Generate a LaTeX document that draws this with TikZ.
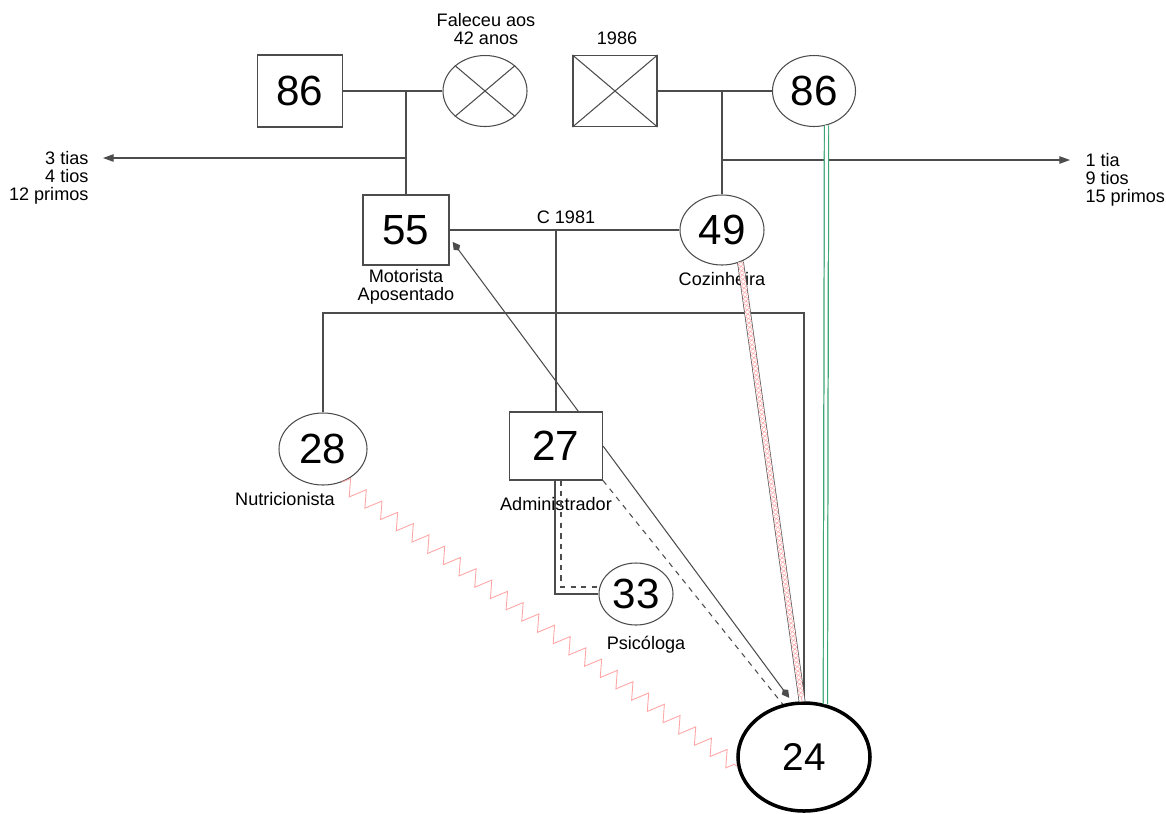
\documentclass[tikz,border=0pt]{standalone}
\usepackage{fontspec}
\setmainfont{Liberation Sans}
\usepackage{tikz}
\usetikzlibrary{shapes.geometric,% ellipse nodes
arrows.meta,%             arrow tips
decorations.pathmorphing,% zigzag lines
calc}
\definecolor{bondgreen}{RGB}{60,165,115}
\tikzset{every node/.style={font=\fontsize{10.3}{10.3}\selectfont, text=black}}
\tikzset{
  person/.style={draw=black!70, line width=0.6pt, inner sep=0pt, font=\fontsize{24}{26}\selectfont},
  male/.style 2 args={person, rectangle, minimum width=#1, minimum height=#2},
  female/.style 2 args={person, ellipse, minimum width=#1, minimum height=#2},
  ego/.style={person, ellipse, draw=black, line width=2pt, minimum width=26.4mm, minimum height=21.6mm, font=\fontsize{22}{24}\selectfont},
  note/.style={align=center, inner sep=0pt},
  kin/.style={-{Triangle[length=6pt,width=4.2pt]}},
  towards/.style={-{Kite[length=6pt,width=4.5pt,inset=2pt]}, shorten >=3pt},
  conflict/.style={draw=red!35, line width=0.5pt, decorate, decoration={zigzag, amplitude=4.5pt, segment length=11pt}},
  bond/.style={draw=bondgreen, double=white, double distance=1.7pt, line width=0.7pt},
  fused/.style={red!35,
    preaction={draw, double=white, double distance=3pt, line width=0.4pt},
    postaction={draw, line width=0.3pt, decorate, decoration={zigzag, amplitude=1.5pt, segment length=5pt}},
    postaction={draw, line width=0.3pt, decorate, decoration={zigzag, amplitude=1.5pt, segment length=5pt, mirror}}}
}

\begin{document}
\begin{tikzpicture}[x=0.2mm, y=-0.2mm, line width=0.6pt, color=black!70]
  \useasboundingbox (0,0) rectangle (1166,813);
  % grandparents
  \node[male={17mm}{14.4mm}] (gpa1) at (300,91) {86};
  \node[female={16.8mm}{14.2mm}] (gma1) at (485,91) {};
  \node[male={16.8mm}{14.2mm}] (gpa2) at (615,91) {};
  \node[female={16.6mm}{14.2mm}] (gma2) at (814,91) {86};
  \foreach \n in {gma1,gpa2}
    \draw (\n.north west) -- (\n.south east) (\n.north east) -- (\n.south west);
  \node[note] (died) at (486,29) {Faleceu aos\\42 anos};
  \node[note] (year) at (617,38) {1986};

  % parents
  \node[male={17.2mm}{14mm}] (dad) at (406,230) {55};
  \node[female={16.8mm}{14mm}] (mom) at (722,230) {49};
  \node[note] (jobDad) at (406,287) {Motorista\\Aposentado};
  \node[note] (jobMom) at (722,279) {Cozinheira};
  \node[note] (wed) at (566,217) {C 1981};

  % children
  \node[female={17.6mm}{14.4mm}] (sis) at (323,449) {28};
  \node[male={18.6mm}{13.6mm}] (bro) at (556,446) {27};
  \node[female={14.8mm}{12.4mm}] (sil) at (636,594) {33};
  \node[ego] (me) at (804,757) {24};
  \node[note] (jobSis) at (285,499) {Nutricionista};
  \node[note] (jobBro) at (556,504) {Administrador};
  \node[note] (jobSil) at (646,645) {Psicóloga};

  % uncles and cousins
  \coordinate (kinL) at (103,158);
  \coordinate (kinR) at (1070,160);
  \node[note, align=right, anchor=north east] (cousL) at (89,151) {3 tias\\4 tios\\12 primos};
  \node[note, align=left, anchor=north west] (cousR) at (1085,153) {1 tia\\9 tios\\15 primos};

  % family lines
  \draw (gpa1) -- (gma1);
  \draw (dad.north) -- (dad.north |- gpa1.east);
  \draw[kin] (dad.north |- kinL) -- (kinL);
  \draw (gpa2) -- (gma2);
  \draw (mom.north) -- (mom.north |- gma2.west);
  \draw[kin] (mom.north |- kinR) -- (kinR);
  \draw (dad) -- (mom);
  \draw (bro.north |- dad.east) -- (bro.north);
  \coordinate (sib) at (804,313);
  \draw (sis.north) |- (sib) -- (me.north);
  \draw ($(bro.south)+(-1,0)$) |- (sil.west);
  \draw[dashed] ($(bro.south)+(5,0)$) |- ($(sil.west)+(0,-7)$);

  % relations
  \draw[towards] (bro.east) -- (me.102);
  \draw[dashed] (bro.south east) -- (me.112);
  \draw[towards] (bro.57) -- (dad.-10);
  \path[fused] (mom.-60) -- (me.92);
  \draw[bond] (gma2.-70) -- (me.68);
  \draw[conflict] (sis.-60) -- (me.188);
\end{tikzpicture}
\end{document}
